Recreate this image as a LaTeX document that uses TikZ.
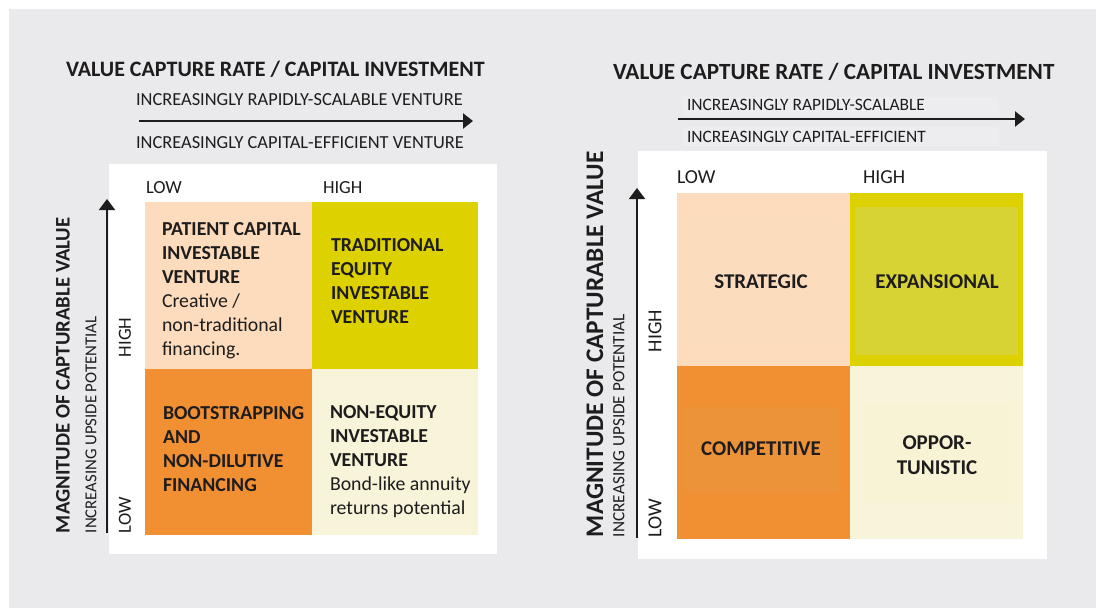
\documentclass[tikz,border=0pt]{standalone}
\usepackage{fontspec}
\setmainfont{Carlito}
\usetikzlibrary{arrows.meta}
\definecolor{bggrey}{HTML}{EAEAEC}
\definecolor{faint}{HTML}{EDEDEF}
\definecolor{peach}{HTML}{FCDCBC}
\definecolor{peachin}{HTML}{FBDDBE}
\definecolor{olive}{HTML}{DDD200}
\definecolor{olivein}{HTML}{D8D335}
\definecolor{orng}{HTML}{F18F33}
\definecolor{orngin}{HTML}{EC9339}
\definecolor{cream}{HTML}{F7F4D9}
\definecolor{creamin}{HTML}{F9F3D6}
\definecolor{ink}{HTML}{1E1C1D}
\begin{document}
\begin{tikzpicture}[x=1pt,y=-1pt,
  every node/.style={text=ink, inner sep=0pt, outer sep=0pt},
  axarrow/.style={draw=ink, line width=2.5pt, -{Triangle[length=10pt,width=15pt]}},
  vaxarrow/.style={draw=ink, line width=2pt, -{Triangle[length=11pt,width=16pt]}},
  ttl/.style={font=\bfseries\fontsize{#1}{#1}\selectfont, anchor=base west},
  sub/.style={font=\fontsize{#1}{#1}\selectfont, anchor=base west},
  rot/.style={font=\fontsize{#1}{#1}\selectfont, anchor=base west, rotate=90},
  rotb/.style={font=\bfseries\fontsize{#1}{#1}\selectfont, anchor=base west, rotate=90},
  cell/.style={anchor=north west, minimum width=#1, minimum height=#1},
  celltext/.style={anchor=base west, align=left, font=\fontsize{19.8}{24}\selectfont},
  quad/.style={font=\bfseries\fontsize{21}{25}\selectfont, align=center}
]
\useasboundingbox (0,0) rectangle (1096,608);
\fill[white] (0,0) rectangle (1096,608);
\fill[bggrey] (9,9) rectangle (1096,608);

% ---------------- LEFT ----------------
\fill[white] (109,164) rectangle (497,554);
\node[ttl=22] (ltitle) at (66,76) {VALUE CAPTURE RATE / CAPITAL INVESTMENT};
\node[sub=18.4] (lsub1) at (136,105.8) {INCREASINGLY RAPIDLY-SCALABLE VENTURE};
\node[sub=18.4] (lsub2) at (136,148.8) {INCREASINGLY CAPITAL-EFFICIENT VENTURE};
\coordinate (lha) at (139,121);
\coordinate (lhb) at (473,121);
\draw[axarrow] (lha) -- (lhb);
\node[sub=18.5] (llow) at (146,193.8) {LOW};
\node[sub=18.5] (lhigh) at (323,193.8) {HIGH};

\node[cell=166.5pt, fill=peach] (ltl) at (145,202) {};
\node[cell=166.5pt, fill=olive] (ltr) at (311.5,202) {};
\node[cell=166.5pt, fill=orng] (lbl) at (145,368.5) {};
\node[cell=166.5pt, fill=cream] (lbr) at (311.5,368.5) {};

\node[celltext] (ltltx) at (162,355.3) {\textbf{PATIENT CAPITAL}\\\textbf{INVESTABLE}\\\textbf{VENTURE}\\Creative /\\non-traditional\\financing.};
\node[celltext] (ltrtx) at (331,323.3) {\textbf{TRADITIONAL}\\\textbf{EQUITY}\\\textbf{INVESTABLE}\\\textbf{VENTURE}};
\node[celltext] (lbltx) at (163,491.3) {\textbf{BOOTSTRAPPING}\\\textbf{AND}\\\textbf{NON-DILUTIVE}\\\textbf{FINANCING}};
\node[celltext] (lbrtx) at (330,514.3) {\textbf{NON-EQUITY}\\\textbf{INVESTABLE}\\\textbf{VENTURE}\\Bond-like annuity\\returns potential};

\coordinate (lva) at (107,533);
\coordinate (lvb) at (107,199);
\draw[vaxarrow] (lva) -- (lvb);
\node[rotb=20.7] (lmag) at (69.5,533) {MAGNITUDE OF CAPTURABLE VALUE};
\node[rot=16.7] (linc) at (96.3,533) {INCREASING UPSIDE POTENTIAL};
\node[rot=18.5] (lvhigh) at (130.8,357) {HIGH};
\node[rot=18.5] (lvlow) at (130.8,533) {LOW};

% ---------------- RIGHT ----------------
\fill[white] (638,151) rectangle (1047,559);
\fill[faint] (683,97) rectangle (999,115);
\fill[faint] (683,127) rectangle (999,146);
\node[ttl=23.2] (rtitle) at (613,79.3) {VALUE CAPTURE RATE / CAPITAL INVESTMENT};
\node[sub=17.4] (rsub1) at (687,110.5) {INCREASINGLY RAPIDLY-SCALABLE};
\node[sub=17.4] (rsub2) at (687,142.5) {INCREASINGLY CAPITAL-EFFICIENT};
\coordinate (rha) at (678,119);
\coordinate (rhb) at (1025,119);
\draw[axarrow] (rha) -- (rhb);
\node[sub=19.8] (rlow) at (677,183.3) {LOW};
\node[sub=19.8] (rhigh) at (863,183.3) {HIGH};

\node[cell=173pt, fill=peach] (rtl) at (677,193) {};
\node[cell=173pt, fill=olive] (rtr) at (850,193) {};
\node[cell=173pt, fill=orng] (rbl) at (677,366) {};
\node[cell=173pt, fill=cream] (rbr) at (850,366) {};
\fill[peachin] (683,217) rectangle (840,345);
\fill[olivein] (855,207) rectangle (1018,355);
\fill[orngin] (683,407) rectangle (840,493);
\fill[creamin] (863,405) rectangle (1010,502);

\node[quad] (rstr) at (761,282) {STRATEGIC};
\node[quad] (rexp) at (937,282) {EXPANSIONAL};
\node[quad] (rcomp) at (761,449) {COMPETITIVE};
\node[quad] (ropp) at (937,455) {OPPOR-\\TUNISTIC};

\coordinate (rva) at (637,538);
\coordinate (rvb) at (637,188);
\draw[vaxarrow] (rva) -- (rvb);
\node[rotb=25.3] (rmag) at (603,537) {MAGNITUDE OF CAPTURABLE VALUE};
\node[rot=17.2] (rinc) at (624.4,537) {INCREASING UPSIDE POTENTIAL};
\node[rot=19.8] (rvhigh) at (661.3,352) {HIGH};
\node[rot=19.8] (rvlow) at (661.3,537) {LOW};
\end{tikzpicture}
\end{document}
